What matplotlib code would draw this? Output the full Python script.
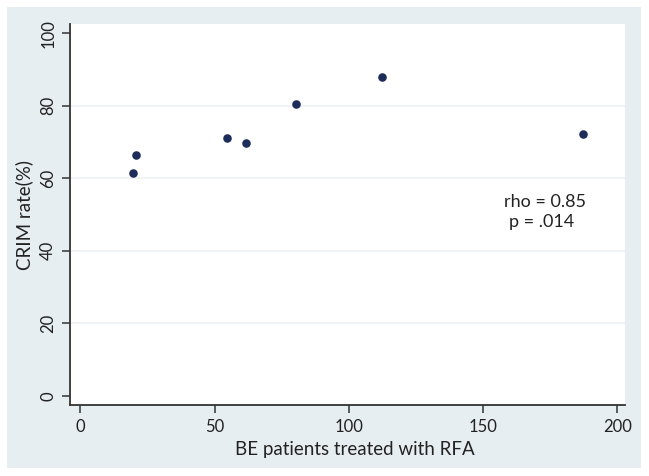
import matplotlib
matplotlib.use("Agg")
import matplotlib.pyplot as plt
from matplotlib.patches import Rectangle

# Data
be_patients = [19.7, 20.6, 54.5, 61.6, 80.3, 112.3, 187.1]
crim_rate = [61.4, 66.5, 71.2, 69.7, 80.5, 87.9, 72.2]
x_ticks = [0, 50, 100, 150, 200]
y_ticks = [0, 20, 40, 60, 80, 100]
grid_vals = [20, 40, 60, 80]
annot_lines = ["rho = 0.85", "p = .014"]

plt.rcParams['font.family'] = ['Lato', 'DejaVu Sans']

W, H = 649, 476
fig = plt.figure(figsize=(W / 100, H / 100), dpi=100, facecolor='white')

bg = '#E7EEF1'
rect = Rectangle((7 / W, (H - 468) / H), 634 / W, 461 / H,
                 transform=fig.transFigure, facecolor=bg,
                 edgecolor='none', zorder=-10)
fig.add_artist(rect)

left, right, top, bottom = 70, 625, 24, 405
ax = fig.add_axes([left / W, (H - bottom) / H, (right - left) / W, (bottom - top) / H])
ax.set_facecolor('white')
ax.set_zorder(1)

ax.set_xlim(-3.84, 202.9)
ax.set_ylim(-2.57, 102.6)

for g in grid_vals:
    ax.axhline(g, color='#EDF1F3', linewidth=1.2, zorder=1)

ax.scatter(be_patients, crim_rate, s=38, color='#1C2D5A', zorder=3, linewidths=0)

ax.set_xticks(x_ticks)
ax.set_yticks(y_ticks)
ax.set_xticklabels([str(t) for t in x_ticks])
ax.set_yticklabels([str(t) for t in y_ticks], rotation=90, va='center')

for s in ['top', 'right']:
    ax.spines[s].set_visible(False)
for s in ['left', 'bottom']:
    ax.spines[s].set_color('#333333')
    ax.spines[s].set_linewidth(1.3)

ax.tick_params(axis='both', direction='out', length=6, width=1.1, color='#333333',
               labelsize=12, labelcolor='#222222', pad=4)

ax.set_xlabel('BE patients treated with RFA', fontsize=13.5, color='#222222', labelpad=6)
ax.xaxis.set_label_coords(0.513, -0.095)
ax.set_ylabel('CRIM rate(%)', fontsize=13.5, color='#222222', labelpad=5)

ax.text(173, 53.6, annot_lines[0], ha='center', va='center', fontsize=13, color='#222222')
ax.text(172, 47.9, annot_lines[1], ha='center', va='center', fontsize=13, color='#222222')

fig.savefig('out.png', dpi=100, facecolor='white')
